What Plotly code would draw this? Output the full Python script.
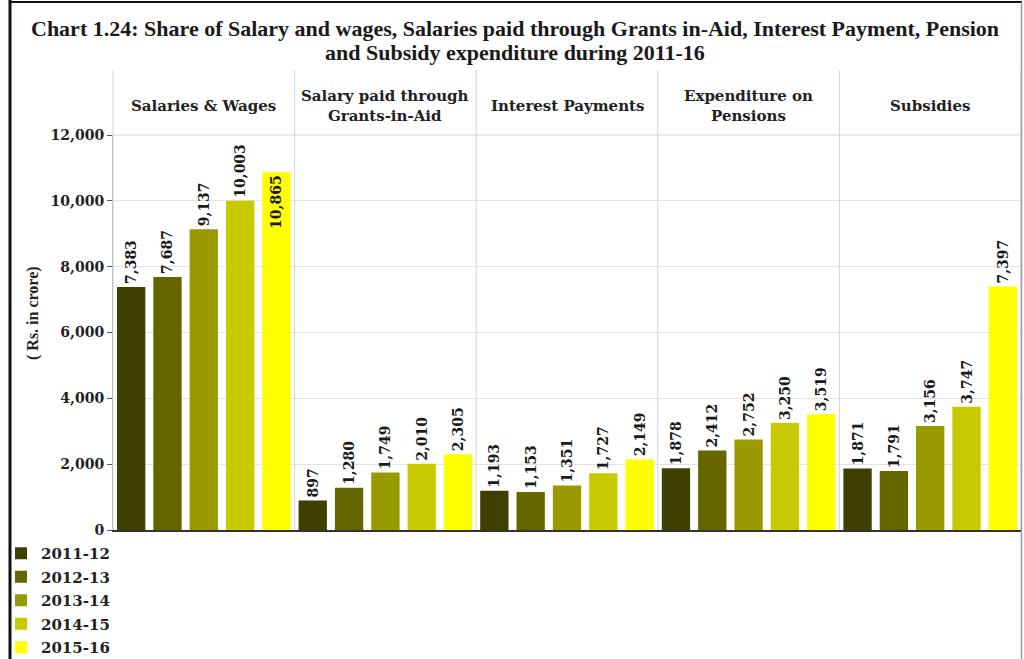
import plotly.graph_objects as go

# Expenditure heads (header row) and financial years (series)
categories = [
    "Salaries & Wages",
    "Salary paid through<br>Grants-in-Aid",
    "Interest Payments",
    "Expenditure on<br>Pensions",
    "Subsidies",
]
years = ["2011-12", "2012-13", "2013-14", "2014-15", "2015-16"]
colors = ["#3f3f00", "#666600", "#999900", "#c9c900", "#ffff00"]

# Rs. in crore, one list per year, ordered as categories
exp_2011_12 = [7383, 897, 1193, 1878, 1871]
exp_2012_13 = [7687, 1280, 1153, 2412, 1791]
exp_2013_14 = [9137, 1749, 1351, 2752, 3156]
exp_2014_15 = [10003, 2010, 1727, 3250, 3747]
exp_2015_16 = [10865, 2305, 2149, 3519, 7397]
series = [exp_2011_12, exp_2012_13, exp_2013_14, exp_2014_15, exp_2015_16]

y_ticks = [0, 2000, 4000, 6000, 8000, 10000, 12000]
y_max = 12000

title_lines = [
    "Chart 1.24: Share of Salary and wages, Salaries paid through Grants in-Aid, Interest Payment, Pension",
    "and Subsidy expenditure during 2011-16",
]

LABEL_FONT = "DejaVu Serif"
TITLE_FONT = "Liberation Serif"

# plot-area geometry in pixels (used to place items outside the axes)
W, H = 1024, 659
L, R, T, B = 113, 3, 135, 129
PW, PH = W - L - R, H - T - B


def px_x(px):
    return (px - L) / PW


def px_y(py):
    return (H - B - py) / PH


fig = go.Figure()
for name, vals, col in zip(years, series, colors):
    # a label that would run past the top of the axis sits inside its bar
    pos = ["inside" if v > 10500 else "outside" for v in vals]
    lbl_font = dict(family=LABEL_FONT, size=14, color="#1a1a1a", weight="bold")
    fig.add_trace(go.Bar(
        name=name,
        x=categories,
        y=vals,
        marker=dict(color=col, line=dict(width=0)),
        text=[f"{v:,}" for v in vals],
        textposition=pos,
        insidetextanchor="end",
        textangle=-90,
        constraintext="none",
        cliponaxis=False,
        textfont=lbl_font,
        insidetextfont=lbl_font,
        outsidetextfont=lbl_font,
        legendgroup=name,
    ))

shapes = []
# column separators running from the header down to the baseline
for k in range(6):
    shapes.append(dict(type="line", xref="paper", yref="paper",
                       x0=k / 5, x1=k / 5, y0=0, y1=px_y(70),
                       line=dict(color="#d4d4d4", width=1)))
# header bottom rule
shapes.append(dict(type="line", xref="paper", yref="paper",
                   x0=0, x1=1, y0=1, y1=1,
                   line=dict(color="#d8d8d8", width=1)))
# outer frame
shapes.append(dict(type="line", xref="paper", yref="paper",
                   x0=px_x(10), x1=px_x(10), y0=px_y(0), y1=px_y(H),
                   line=dict(color="#111111", width=3)))
shapes.append(dict(type="line", xref="paper", yref="paper",
                   x0=px_x(10), x1=px_x(1022), y0=px_y(2), y1=px_y(2),
                   line=dict(color="#111111", width=2)))
shapes.append(dict(type="line", xref="paper", yref="paper",
                   x0=px_x(1021.5), x1=px_x(1021.5), y0=px_y(2), y1=px_y(H),
                   line=dict(color="#9a9a9a", width=1.5)))

annotations = []
# chart title, two centred lines
for i, line in enumerate(title_lines):
    annotations.append(dict(
        x=px_x(515), xref="paper", y=px_y(28 + 24 * i), yref="paper",
        text=line, showarrow=False, xanchor="center", yanchor="middle",
        font=dict(family=TITLE_FONT, size=22, color="#1a1a1a", weight="bold"),
    ))
# header row labels
for c in categories:
    annotations.append(dict(
        x=c, xref="x", y=px_y(106), yref="paper",
        text=c, showarrow=False, xanchor="center", yanchor="middle",
        font=dict(family=LABEL_FONT, size=15, color="#222222", weight="bold"),
    ))
# y-axis title
annotations.append(dict(
    x=px_x(33), xref="paper", y=px_y(313), yref="paper",
    text="( Rs. in crore)", textangle=-90, showarrow=False,
    xanchor="center", yanchor="middle",
    font=dict(family=TITLE_FONT, size=16, color="#222222", weight="bold"),
))

fig.update_layout(
    width=W, height=H,
    margin=dict(l=L, r=R, t=T, b=B, autoexpand=False),
    paper_bgcolor="white", plot_bgcolor="white",
    barmode="group", bargap=0.0, bargroupgap=0.22,
    xaxis=dict(
        range=[-0.5, 4.5], showticklabels=False, ticks="",
        showline=True, linecolor="#333333", linewidth=1.5,
        showgrid=False, zeroline=False, fixedrange=True,
    ),
    yaxis=dict(
        range=[0, y_max], tickvals=y_ticks, tickformat=",",
        ticks="outside", ticklen=5, tickcolor="#555555",
        showline=True, linecolor="#aaaaaa", linewidth=1,
        showgrid=True, gridcolor="#e3e3e3", zeroline=False,
        tickfont=dict(family=LABEL_FONT, size=14, color="#222222", weight="bold"),
    ),
    legend=dict(
        x=px_x(1), y=px_y(537), xanchor="left", yanchor="top",
        orientation="v", itemwidth=30, tracegroupgap=1,
        bgcolor="rgba(0,0,0,0)",
        font=dict(family=LABEL_FONT, size=15, color="#222222", weight="bold"),
    ),
    shapes=shapes,
    annotations=annotations,
    showlegend=True,
)

fig.write_html("out.html")
